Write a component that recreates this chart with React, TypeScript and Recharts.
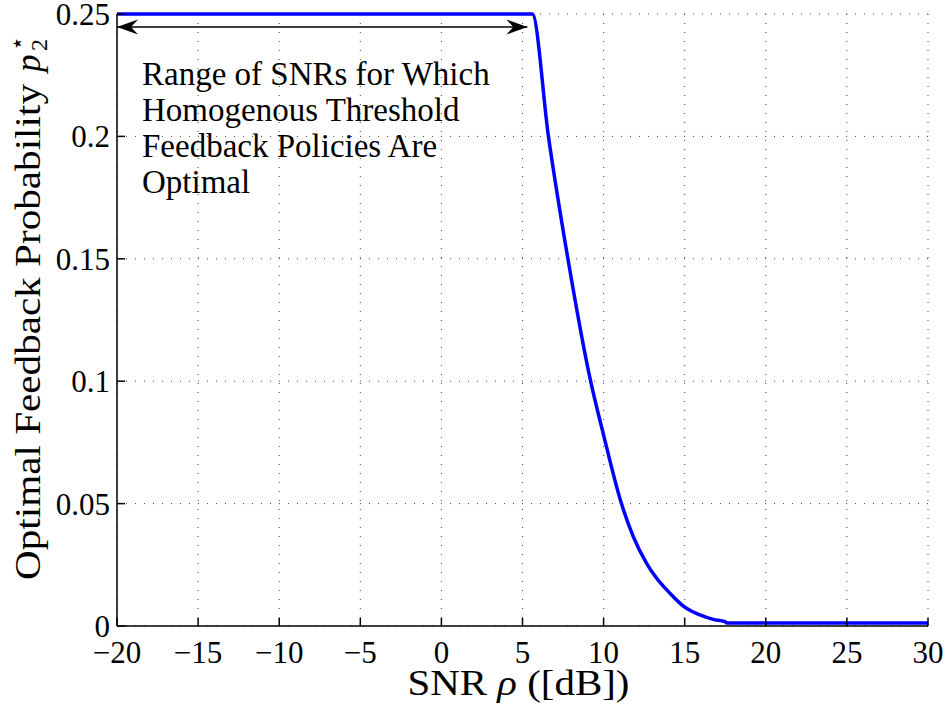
import React from "react";
import { LineChart, Line, XAxis, YAxis, CartesianGrid, ReferenceLine, Label } from "recharts";

// SNR (dB) and the optimal feedback probability
const snrDb = [-20, 5.6, 6.6, 7.8, 9.2, 10.0, 11.1, 11.83, 12.65, 13.27, 14.09, 14.96, 15.94, 16.76, 17.48, 17.6, 30];
const feedbackProb = [0.25, 0.25, 0.2, 0.15, 0.1, 0.078, 0.05, 0.0365, 0.0256, 0.0195, 0.0134, 0.0079, 0.0045, 0.0027, 0.0018, 0.0012, 0.0012];

const xTicks = [-20, -15, -10, -5, 0, 5, 10, 15, 20, 25, 30];
const yTicks = [0, 0.05, 0.1, 0.15, 0.2, 0.25];

// double arrow marking the homogeneous-threshold range
const rangeStart = -20;
const rangeEnd = 5.3;
const rangeLevel = 0.2447;
const noteLines = ["Range of SNRs for Which", "Homogenous Threshold", "Feedback Policies Are", "Optimal"];

const FONT = "Liberation Serif";
const serif = { fontFamily: FONT };

const data = snrDb.map((snr, i) => ({ snr, p: feedbackProb[i] }));

const fmtX = (v: number) => (v < 0 ? `\u2212${-v}` : `${v}`);
const fmtY = (v: number) => `${v}`;

function XTick(props: any) {
  const { x, y, payload } = props;
  return (
    <text x={x} y={y} dy="0.71em" textAnchor="middle" fontSize={31} fill="#000" style={serif}>
      {fmtX(payload.value)}
    </text>
  );
}

function YTick(props: any) {
  const { x, y, payload } = props;
  return (
    <text x={x} y={y} dy="0.355em" textAnchor="end" fontSize={31} fill="#000" style={serif}>
      {fmtY(payload.value)}
    </text>
  );
}

function RangeArrow(props: any) {
  const { x1, y1, x2, y2 } = props;
  const len = 21;
  const half = 7.5;
  const notch = 14;
  return (
    <g>
      <line x1={x1} y1={y1} x2={x2} y2={y2} stroke="#000" strokeWidth={1.5} />
      <polygon
        points={`${x1},${y1} ${x1 + len},${y1 - half} ${x1 + notch},${y1} ${x1 + len},${y1 + half}`}
        fill="#000"
      />
      <polygon
        points={`${x2},${y2} ${x2 - len},${y2 - half} ${x2 - notch},${y2} ${x2 - len},${y2 + half}`}
        fill="#000"
      />
      <g style={serif} fill="#000">
        {noteLines.map((t, i) => (
          <text key={t} x={x1 + 25} y={y1 + 58.5 + i * 36} fontSize={33}>
            {t}
          </text>
        ))}
      </g>
    </g>
  );
}

function YTitle(props: any) {
  const { viewBox } = props;
  const x = viewBox.x + 23;
  const y0 = viewBox.y + viewBox.height - 46;
  const pY = viewBox.y + 58;
  const subY = viewBox.y + 37;
  return (
    <g style={serif} fill="#000">
      <text
        x={x}
        y={y0}
        transform={`rotate(-90, ${x}, ${y0})`}
        fontSize={35}
        textLength={y0 - pY - 12}
        lengthAdjust="spacingAndGlyphs"
      >
        Optimal Feedback Probability
      </text>
      <text x={x} y={pY} transform={`rotate(-90, ${x}, ${pY})`} fontSize={35} fontStyle="italic">
        p
      </text>
      <text x={x + 7} y={subY} transform={`rotate(-90, ${x + 7}, ${subY})`} fontSize={24}>
        2
      </text>
      <text x={x - 15} y={subY} transform={`rotate(-90, ${x - 15}, ${subY})`} fontSize={24}>
        {"\u22C6"}
      </text>
    </g>
  );
}

function XTitle(props: any) {
  const { viewBox } = props;
  return (
    <g style={serif} fill="#000">
      <text
        x={viewBox.x + viewBox.width / 2 - 4}
        y={viewBox.y + 69}
        textAnchor="middle"
        fontSize={35}
        textLength={222}
        lengthAdjust="spacingAndGlyphs"
      >
        SNR <tspan fontStyle="italic">{"\u03C1"}</tspan> ([dB])
      </text>
    </g>
  );
}

export default function App() {
  return (
    <div style={{ position: "fixed", left: 0, top: 0, width: 945, height: 707, background: "#fff", fontFamily: FONT }}>
      <LineChart width={945} height={707} data={data} margin={{ top: 14, right: 17, left: 17, bottom: 31 }}>
        <CartesianGrid stroke="#444" strokeDasharray="1 8" strokeWidth={1} />
        <XAxis
          type="number"
          dataKey="snr"
          domain={[-20, 30]}
          ticks={xTicks}
          tick={<XTick />}
          tickSize={-8}
          tickMargin={23}
          height={50}
          stroke="#000"
          strokeWidth={1.5}
          interval={0}
        >
          <Label content={XTitle} />
        </XAxis>
        <XAxis
          xAxisId="top"
          orientation="top"
          type="number"
          dataKey="snr"
          domain={[-20, 30]}
          ticks={xTicks}
          tick={false}
          tickSize={-8}
          height={0}
          stroke="#000"
          strokeWidth={1.5}
        />
        <YAxis
          type="number"
          domain={[0, 0.25]}
          ticks={yTicks}
          tick={<YTick />}
          tickSize={-8}
          tickMargin={15}
          width={100}
          stroke="#000"
          strokeWidth={1.5}
          interval={0}
        >
          <Label content={YTitle} />
        </YAxis>
        <YAxis
          yAxisId="right"
          orientation="right"
          type="number"
          domain={[0, 0.25]}
          ticks={yTicks}
          tick={false}
          tickSize={-8}
          width={0}
          stroke="#000"
          strokeWidth={1.5}
        />
        <ReferenceLine
          segment={[
            { x: rangeStart, y: rangeLevel },
            { x: rangeEnd, y: rangeLevel },
          ]}
          shape={RangeArrow}
        />
        <Line
          type="monotone"
          dataKey="p"
          stroke="#0000ff"
          strokeWidth={3.5}
          dot={false}
          isAnimationActive={false}
        />
      </LineChart>
    </div>
  );
}
